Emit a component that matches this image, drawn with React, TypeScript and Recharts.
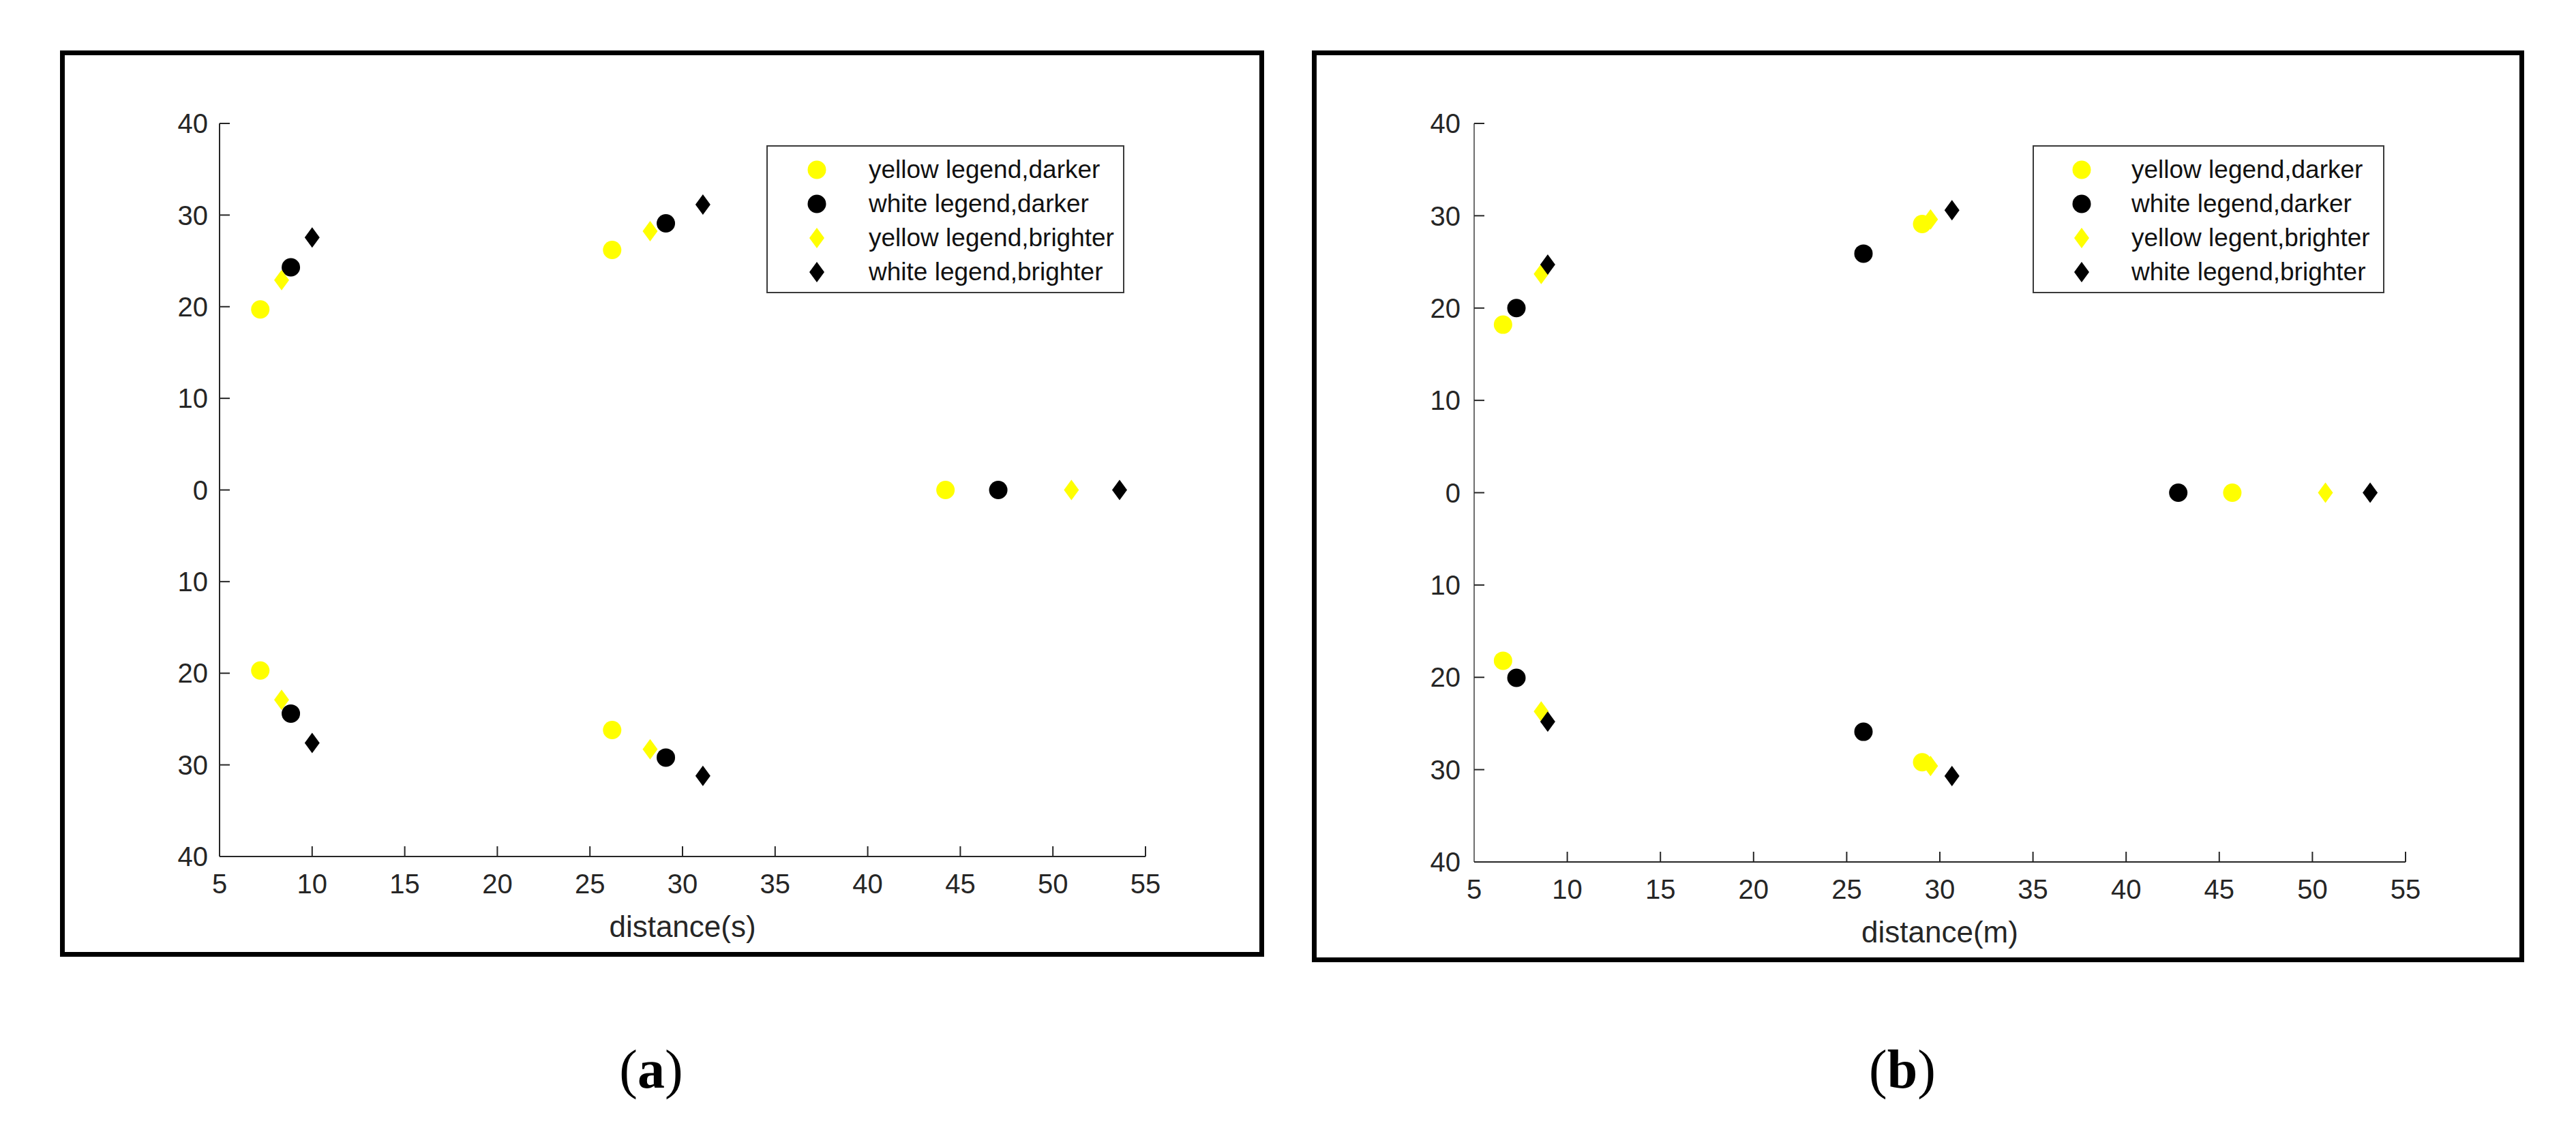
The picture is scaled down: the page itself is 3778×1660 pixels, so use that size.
import { Label, Legend, Scatter, ScatterChart, XAxis, YAxis } from 'recharts'

type Pt = { x: number; y: number }

const X_TICKS = [5, 10, 15, 20, 25, 30, 35, 40, 45, 50, 55]
const Y_TICKS = [-40, -30, -20, -10, 0, 10, 20, 30, 40]

// panel (a) — distance(s)
const A_YELLOW_DARKER: Pt[] = [
  { x: 7.2, y: 19.7 }, { x: 26.2, y: 26.2 }, { x: 44.2, y: 0 }, { x: 7.2, y: -19.7 }, { x: 26.2, y: -26.2 },
]
const A_WHITE_DARKER: Pt[] = [
  { x: 8.85, y: 24.3 }, { x: 29.1, y: 29.1 }, { x: 47.05, y: 0 }, { x: 8.85, y: -24.4 }, { x: 29.1, y: -29.2 },
]
const A_YELLOW_BRIGHTER: Pt[] = [
  { x: 8.35, y: 22.9 }, { x: 28.25, y: 28.25 }, { x: 51.0, y: 0 }, { x: 8.35, y: -22.9 }, { x: 28.25, y: -28.3 },
]
const A_WHITE_BRIGHTER: Pt[] = [
  { x: 10.0, y: 27.55 }, { x: 31.1, y: 31.15 }, { x: 53.6, y: 0 }, { x: 10.0, y: -27.6 }, { x: 31.1, y: -31.2 },
]
const A_LABELS = ['yellow legend,darker', 'white legend,darker', 'yellow legend,brighter', 'white legend,brighter']

// panel (b) — distance(m)
const B_YELLOW_DARKER: Pt[] = [
  { x: 6.55, y: 18.2 }, { x: 29.05, y: 29.1 }, { x: 45.7, y: 0 }, { x: 6.55, y: -18.2 }, { x: 29.05, y: -29.2 },
]
const B_WHITE_DARKER: Pt[] = [
  { x: 7.27, y: 20.0 }, { x: 25.9, y: 25.9 }, { x: 42.8, y: 0 }, { x: 7.27, y: -20.05 }, { x: 25.9, y: -25.9 },
]
const B_YELLOW_BRIGHTER: Pt[] = [
  { x: 8.6, y: 23.7 }, { x: 29.5, y: 29.6 }, { x: 50.7, y: 0 }, { x: 8.6, y: -23.7 }, { x: 29.5, y: -29.6 },
]
const B_WHITE_BRIGHTER: Pt[] = [
  { x: 8.95, y: 24.7 }, { x: 30.65, y: 30.6 }, { x: 53.1, y: 0 }, { x: 8.95, y: -24.8 }, { x: 30.65, y: -30.7 },
]
const B_LABELS = ['yellow legend,darker', 'white legend,darker', 'yellow legent,brighter', 'white legend,brighter']

const FONT = '"Liberation Sans", Arial, sans-serif'
const YELLOW = '#ffff00'
const BLACK = '#000000'
const AXIS = '#262626'

// marker per series, in legend order
const MARKERS: Array<{ kind: 'circle' | 'diamond'; fill: string }> = [
  { kind: 'circle', fill: YELLOW },
  { kind: 'circle', fill: BLACK },
  { kind: 'diamond', fill: YELLOW },
  { kind: 'diamond', fill: BLACK },
]

function Marker({ cx, cy, kind, fill }: { cx: number; cy: number; kind: string; fill: string }) {
  if (kind === 'circle') return <circle cx={cx} cy={cy} r={13.5} fill={fill} />
  return (
    <path
      d={`M${cx},${cy - 15} L${cx + 11},${cy} L${cx},${cy + 15} L${cx - 11},${cy} Z`}
      fill={fill}
    />
  )
}

type LegendProps = {
  labels: string[]
  width: number
  markerX: number
  textX: number
}

function LegendBox({ labels, width, markerX, textX }: LegendProps) {
  return (
    <div
      style={{
        width,
        height: 217,
        boxSizing: 'border-box',
        border: '2px solid #3a3a3a',
        background: '#fff',
        position: 'relative',
        fontFamily: FONT,
        fontSize: 37,
        color: '#111',
      }}
    >
      {labels.map((lab, i) => {
        const cy = 36 + 50 * i - 2
        return (
          <div key={lab + i}>
            <svg
              width={40}
              height={40}
              style={{ position: 'absolute', left: markerX - 22, top: cy - 20 }}
            >
              <Marker cx={20} cy={20} kind={MARKERS[i].kind} fill={MARKERS[i].fill} />
            </svg>
            <div
              style={{
                position: 'absolute',
                left: textX - 2,
                top: cy - 25,
                height: 50,
                lineHeight: '50px',
                whiteSpace: 'nowrap',
              }}
            >
              {lab}
            </div>
          </div>
        )
      })}
    </div>
  )
}

type PanelProps = {
  left: number
  top: number
  width: number
  height: number
  yAxisWidth: number
  yAxisStroke: string
  labelGap: number
  series: Pt[][]
  labels: string[]
  xTitle: string
  legendLeft: number
  legendWidth: number
  legendMarkerX: number
  legendTextX: number
}

function Panel(p: PanelProps) {
  return (
    <>
      <div style={{ position: 'absolute', left: p.left, top: p.top }}>
        <ScatterChart
          width={p.width}
          height={p.height}
          margin={{ top: 107, right: 174, bottom: 27, left: 0 }}
        >
          <XAxis
            type="number"
            dataKey="x"
            domain={[5, 55]}
            ticks={X_TICKS}
            interval={0}
            height={120}
            tickSize={-15}
            tickMargin={41}
            axisLine={{ stroke: AXIS, strokeWidth: 2 }}
            tickLine={{ stroke: AXIS, strokeWidth: 2 }}
            tick={{ fontSize: 40, fill: AXIS, fontFamily: FONT }}
            allowDataOverflow
          >
            <Label
              value={p.xTitle}
              position="insideBottom"
              offset={2}
              style={{ fontSize: 44, fill: AXIS, fontFamily: FONT }}
            />
          </XAxis>
          <YAxis
            type="number"
            dataKey="y"
            domain={[-40, 40]}
            ticks={Y_TICKS}
            interval={0}
            width={p.yAxisWidth}
            tickSize={-15}
            tickMargin={p.labelGap + 15}
            axisLine={{ stroke: p.yAxisStroke, strokeWidth: 2 }}
            tickLine={{ stroke: AXIS, strokeWidth: 2 }}
            tick={{ fontSize: 40, fill: AXIS, fontFamily: FONT }}
            tickFormatter={(v: number) => String(Math.abs(v))}
            allowDataOverflow
          />
          <Legend
            layout="vertical"
            align="center"
            verticalAlign="middle"
            wrapperStyle={{ left: p.legendLeft, top: 139, width: p.legendWidth, height: 217 }}
            content={() => (
              <LegendBox
                labels={p.labels}
                width={p.legendWidth}
                markerX={p.legendMarkerX}
                textX={p.legendTextX}
              />
            )}
          />
          {p.series.map((data, i) => (
            <Scatter
              key={p.labels[i]}
              name={p.labels[i]}
              data={data}
              fill={MARKERS[i].fill}
              isAnimationActive={false}
              shape={(s: any) => (
                <Marker cx={s.cx} cy={s.cy} kind={MARKERS[i].kind} fill={MARKERS[i].fill} />
              )}
            />
          ))}
        </ScatterChart>
      </div>
      <div
        style={{
          position: 'absolute',
          left: p.left,
          top: p.top,
          width: p.width,
          height: p.height,
          boxSizing: 'border-box',
          border: '7px solid #000',
          pointerEvents: 'none',
        }}
      />
    </>
  )
}

function Caption({ letter, cx }: { letter: string; cx: number }) {
  return (
    <div
      style={{
        position: 'absolute',
        left: cx - 100,
        top: 1528,
        width: 200,
        textAlign: 'center',
        fontFamily: '"Liberation Serif", "Times New Roman", serif',
        fontSize: 80,
        lineHeight: '80px',
        color: '#000',
      }}
    >
      (<b>{letter}</b>)
    </div>
  )
}

export default function App() {
  return (
    <div
      style={{
        position: 'absolute',
        left: 0,
        top: 0,
        width: 3778,
        height: 1660,
        background: '#fff',
        overflow: 'hidden',
      }}
    >
      <Panel
        left={88}
        top={74}
        width={1766}
        height={1329}
        yAxisWidth={234}
        yAxisStroke={AXIS}
        labelGap={17}
        series={[A_YELLOW_DARKER, A_WHITE_DARKER, A_YELLOW_BRIGHTER, A_WHITE_BRIGHTER]}
        labels={A_LABELS}
        xTitle="distance(s)"
        legendLeft={1036}
        legendWidth={525}
        legendMarkerX={74}
        legendTextX={150}
      />
      <Panel
        left={1924}
        top={74}
        width={1778}
        height={1337}
        yAxisWidth={238}
        yAxisStroke="#6e6e6e"
        labelGap={20}
        series={[B_YELLOW_DARKER, B_WHITE_DARKER, B_YELLOW_BRIGHTER, B_WHITE_BRIGHTER]}
        labels={B_LABELS}
        xTitle="distance(m)"
        legendLeft={1057}
        legendWidth={516}
        legendMarkerX={72}
        legendTextX={145}
      />
      <Caption letter="a" cx={955} />
      <Caption letter="b" cx={2790} />
    </div>
  )
}
